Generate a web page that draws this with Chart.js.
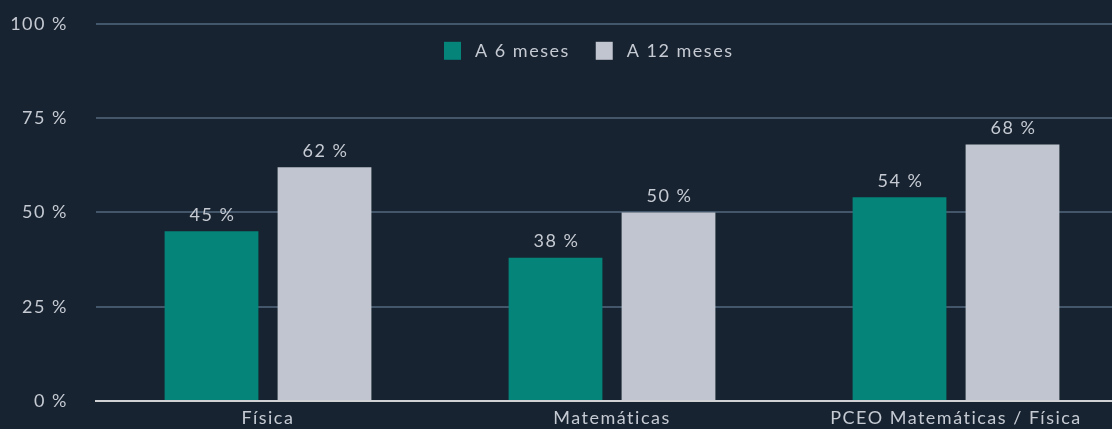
<!DOCTYPE html>
<html>
<head>
<meta charset="utf-8">
<script src="https://cdn.jsdelivr.net/npm/chart.js@4/dist/chart.umd.min.js"></script>
<style>
  html, body { margin: 0; padding: 0; background: #172330; overflow: hidden; }
  #wrap { position: absolute; left: 0; top: -15px; width: 1128px; height: 455px; }
</style>
</head>
<body>
<div id="wrap"><canvas id="grafico" width="1128" height="455"></canvas></div>
<script>
var categorias = ["Física", "Matemáticas", "PCEO Matemáticas / Física"];
var seisMeses = [45, 38, 54];
var doceMeses = [62, 50, 68];
var ticksY = [0, 25, 50, 75, 100];

var textoColor = "#c5cad3";
var fuente = "Lato";
var espaciado = "1.5px";

// espaciado de letras para todo el lienzo
var espaciadoTexto = {
  id: "espaciadoTexto",
  beforeDraw: function(chart) {
    chart.ctx.letterSpacing = espaciado;
  }
};

// etiquetas encima de cada barra
var etiquetasBarras = {
  id: "etiquetasBarras",
  afterDatasetsDraw: function(chart) {
    var ctx = chart.ctx;
    ctx.save();
    ctx.letterSpacing = espaciado;
    ctx.font = "18px " + fuente;
    ctx.fillStyle = textoColor;
    ctx.textAlign = "center";
    ctx.textBaseline = "bottom";
    chart.data.datasets.forEach(function(ds, i) {
      chart.getDatasetMeta(i).data.forEach(function(bar, j) {
        ctx.fillText(ds.data[j] + " %", bar.x + 1, bar.y - 7);
      });
    });
    ctx.restore();
  }
};

// leyenda dentro del area del grafico
var leyenda = {
  id: "leyenda",
  afterDraw: function(chart) {
    var ctx = chart.ctx;
    ctx.save();
    ctx.letterSpacing = espaciado;
    ctx.font = "18px " + fuente;
    ctx.textBaseline = "middle";
    ctx.textAlign = "left";
    var x = 444, y = chart.chartArea.top + 27;
    chart.data.datasets.forEach(function(ds) {
      ctx.fillStyle = ds.backgroundColor;
      ctx.fillRect(x, y - 9, 17, 18);
      ctx.fillStyle = textoColor;
      ctx.fillText(ds.label, x + 31, y);
      x += 31 + ctx.measureText(ds.label).width + 26;
    });
    ctx.restore();
  }
};

try {
  new Chart(document.getElementById("grafico").getContext("2d"), {
    type: "bar",
    data: {
      labels: categorias,
      datasets: [
        { label: "A 6 meses", data: seisMeses, backgroundColor: "#058479" },
        { label: "A 12 meses", data: doceMeses, backgroundColor: "#c1c5cf" }
      ]
    },
    options: {
      responsive: false,
      animation: false,
      categoryPercentage: 0.657,
      barPercentage: 0.83,
      layout: { padding: { top: 8, right: 0, left: 0, bottom: 0 } },
      plugins: {
        tooltip: { enabled: false },
        legend: { display: false }
      },
      scales: {
        x: {
          grid: { display: false, drawTicks: false },
          border: { color: "#cfd1d4", width: 2 },
          ticks: { color: textoColor, font: { family: fuente, size: 18 }, padding: 6, maxRotation: 0 },
          afterFit: function(scale) { scale.height = 39; }
        },
        y: {
          min: 0,
          max: 100,
          afterBuildTicks: function(scale) {
            scale.ticks = ticksY.map(function(v) { return { value: v }; });
          },
          grid: { color: "#44566a", lineWidth: 2, drawTicks: false },
          border: { display: false },
          ticks: {
            color: textoColor,
            font: { family: fuente, size: 18 },
            padding: 28,
            callback: function(v) { return v + " %"; }
          },
          afterFit: function(scale) { scale.width = 96; }
        }
      }
    },
    plugins: [espaciadoTexto, etiquetasBarras, leyenda]
  });
} catch (e) {
  console.log("grafico " + e);
}
</script>
</body>
</html>
